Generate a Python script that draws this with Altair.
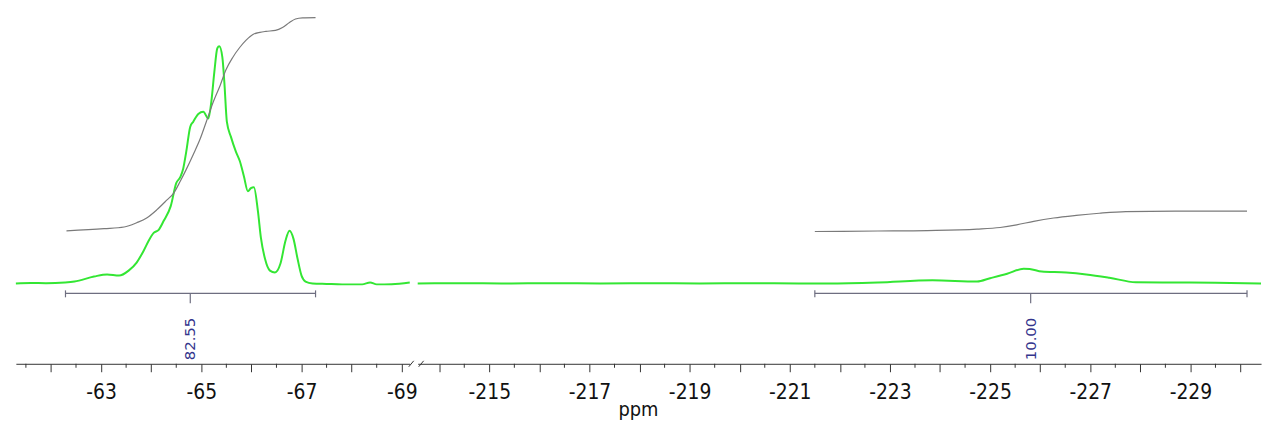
import altair as alt
import pandas as pd

# ---------------- data ----------------
# 19F spectrum, left window (ppm, intensity: baseline 0, tallest peak 100)
left_ppm = [-61.30, -61.60, -61.90, -62.28, -62.47, -62.86, -63.12, -63.36, -63.55,
            -63.71, -63.85, -63.95, -64.05, -64.15, -64.25, -64.39, -64.50, -64.58,
            -64.64, -64.70, -64.78, -64.84, -64.94, -65.04, -65.14, -65.20, -65.26,
            -65.32, -65.36, -65.42, -65.46, -65.51, -65.59, -65.69, -65.77, -65.85,
            -65.93, -65.99, -66.05, -66.13, -66.19, -66.27, -66.37, -66.47, -66.58,
            -66.68, -66.76, -66.84, -66.92, -67.00, -67.08, -67.22, -67.50, -67.81,
            -68.21, -68.37, -68.50, -68.80, -69.16]
left_int = [0.0, 0.2, 0.1, 0.4, 0.8, 2.9, 3.8, 3.3, 5.4,
            8.8, 13.8, 18.0, 21.3, 22.6, 26.4, 32.6, 42.3, 44.8,
            48.5, 55.6, 66.1, 68.2, 71.5, 72.4, 69.5, 76.6, 89.1,
            99.2, 100.0, 95.4, 84.9, 68.2, 61.9, 55.6, 51.5, 45.2,
            38.9, 40.2, 40.6, 30.5, 19.2, 10.5, 5.4, 4.6, 8.4,
            18.0, 22.2, 18.8, 10.5, 3.3, 0.8, 0.0, -0.2, -0.4,
            -0.4, 0.4, -0.4, -0.3, 0.4]

# right window
right_ppm = [-213.57, -214.50, -215.24, -216.30, -217.22, -218.20, -219.20, -220.20,
             -221.18, -221.77, -222.76, -223.85, -224.74, -225.00, -225.34, -225.67,
             -225.79, -226.03, -226.52, -226.92, -227.38, -227.91, -228.70, -229.50,
             -230.41]
right_int = [0.0, 0.1, 0.0, 0.1, 0.0, 0.1, 0.0, 0.1,
             0.0, 0.0, 0.4, 1.3, 0.8, 2.2, 4.1, 6.2,
             6.1, 5.0, 4.6, 3.8, 2.4, 0.5, 0.4, 0.3,
             0.0]

# integral curves
li_ppm = [-62.31, -63.06, -63.46, -63.71, -63.91, -64.11, -64.31, -64.45, -64.58,
          -64.70, -64.84, -64.98, -65.10, -65.24, -65.38, -65.49, -65.63, -65.77,
          -65.89, -66.03, -66.17, -66.29, -66.48, -66.62, -66.76, -66.88, -67.02,
          -67.28]
li_int = [22.2, 23.1, 23.8, 25.6, 27.6, 31.0, 35.1, 38.1, 43.1,
          48.1, 54.4, 61.1, 68.2, 76.6, 83.7, 90.0, 95.4, 99.6,
          102.5, 105.0, 105.9, 106.3, 106.7, 107.9, 110.0, 111.5, 112.0,
          112.1]
ri_ppm = [-221.50, -222.76, -223.75, -224.74, -225.20, -225.53, -225.87, -226.27,
          -226.72, -227.18, -227.71, -228.70, -230.13]
ri_int = [21.9, 22.1, 22.3, 22.9, 23.6, 24.7, 26.2, 27.6,
          28.7, 29.6, 30.3, 30.5, 30.5]

# integration regions
int_start = [-62.29, -221.50]
int_end = [-67.28, -230.13]
int_center = [-64.78, -225.81]
int_label = ["82.55", "10.00"]

# axis windows and ticks
left_domain = [-61.30, -69.16]
right_domain = [-213.57, -230.41]
left_major = [-62, -63, -64, -65, -66, -67, -68, -69]
left_minor = [-61.5, -62.5, -63.5, -64.5, -65.5, -66.5, -67.5, -68.5]
right_major = [-214, -215, -216, -217, -218, -219, -220, -221, -222, -223, -224,
               -225, -226, -227, -228, -229, -230]
right_minor = [-214.5, -215.5, -216.5, -217.5, -218.5, -219.5, -220.5, -221.5,
               -222.5, -223.5, -224.5, -225.5, -226.5, -227.5, -228.5, -229.5]

assert len(left_ppm) == len(left_int)
assert len(right_ppm) == len(right_int)
assert len(li_ppm) == len(li_int)
assert len(ri_ppm) == len(ri_int)

# ---------------- styling ----------------
GREEN = "#33e633"
GRAY = "#7a7a7a"
BAR = "#6e6e80"
NAVY = "#34348c"
AXC = "#333333"
TICKFONT = "DejaVu Sans Condensed, Liberation Sans Narrow, DejaVu Sans, sans-serif"
H = 364
Y_DOMAIN = [-33.89, 118.41]
LEFT_W = 397
RIGHT_W = 850


def panel(xdom, width, spec_x, spec_y, ig_x, ig_y, k, major, minor, side):
    xs = alt.Scale(domain=xdom, nice=False, zero=False)
    ys = alt.Scale(domain=Y_DOMAIN, nice=False, zero=False)
    axis_kw = dict(
        values=major, tickSize=8, tickColor=AXC, domainColor=AXC, tickWidth=1,
        domainWidth=1, labelExpr="abs(datum.value % 2) == 1 ? '' + datum.value : ''",
        labelFont=TICKFONT, labelFontSize=21, labelColor="#111111", labelPadding=10,
        labelFlush=False, labelOverlap=False, grid=False, orient="bottom",
    )
    if side == "right":
        axis_kw.update(title="ppm", titleX=222, titleY=52, titleBaseline="alphabetic",
                       titleFont=TICKFONT, titleFontSize=20, titleFontWeight="normal",
                       titleColor="#111111", titleAlign="center")
    else:
        axis_kw.update(title="")
    AX = alt.Axis(**axis_kw)

    def X(field):
        return alt.X(field, type="quantitative", scale=xs, axis=AX)

    yenc = alt.Y("I:Q", scale=ys, axis=None)

    spec = alt.Chart(pd.DataFrame({"ppm": spec_x, "I": spec_y})).mark_line(
        color=GREEN, strokeWidth=2, interpolate="monotone").encode(x=X("ppm"), y=yenc)
    integ = alt.Chart(pd.DataFrame({"ppm": ig_x, "I": ig_y})).mark_line(
        color=GRAY, strokeWidth=1.2, interpolate="monotone").encode(x=X("ppm"), y=yenc)

    reg = pd.DataFrame({"ppm": [int_start[k]], "ppm2": [int_end[k]],
                        "c": [int_center[k]], "lab": [int_label[k]]})
    bar = alt.Chart(reg).mark_rule(color=BAR, strokeWidth=1.2).encode(
        x=X("ppm"), x2="ppm2:Q", y=alt.value(293))
    ends = pd.DataFrame({"ppm": [int_start[k], int_end[k]]})
    endt = alt.Chart(ends).mark_rule(color=BAR, strokeWidth=1.2).encode(
        x=X("ppm"), y=alt.value(290), y2=alt.value(297))
    ctick = alt.Chart(reg).mark_rule(color=BAR, strokeWidth=1.2).encode(
        x=X("c"), y=alt.value(293), y2=alt.value(303))
    lab = alt.Chart(reg).mark_text(
        angle=270, align="center", baseline="middle", font="DejaVu Sans",
        fontSize=15, color=NAVY).encode(
        x=X("c"), y=alt.value(339), text="lab:N")
    mt = alt.Chart(pd.DataFrame({"ppm": minor})).mark_rule(color=AXC, strokeWidth=1).encode(
        x=X("ppm"), y=alt.value(H), y2=alt.value(H + 4))
    layers = [spec, integ, bar, endt, ctick, lab, mt]
    if side == "left":
        brk = alt.Chart(pd.DataFrame({"k": [0]})).mark_rule(
            color=AXC, strokeWidth=1).encode(
            x=alt.value(width - 1), x2=alt.value(width + 4),
            y=alt.value(H + 3), y2=alt.value(H - 3))
    else:
        brk = alt.Chart(pd.DataFrame({"k": [0]})).mark_rule(
            color=AXC, strokeWidth=1).encode(
            x=alt.value(1), x2=alt.value(6),
            y=alt.value(H + 3), y2=alt.value(H - 3))
    layers.append(brk)
    return alt.layer(*layers).properties(width=width, height=H)


left = panel(left_domain, LEFT_W, left_ppm, left_int, li_ppm, li_int, 0,
             left_major, left_minor, "left")
right = panel(right_domain, RIGHT_W, right_ppm, right_int, ri_ppm, ri_int, 1,
              right_major, right_minor, "right")

chart = alt.hconcat(left, right, spacing=8, bounds="flush").properties(
    padding={"left": 11, "top": 0, "right": 0, "bottom": 0},
    background="white",
).configure_view(stroke="transparent")

chart.save("out.html", embed_options={"renderer": "svg", "actions": False})
